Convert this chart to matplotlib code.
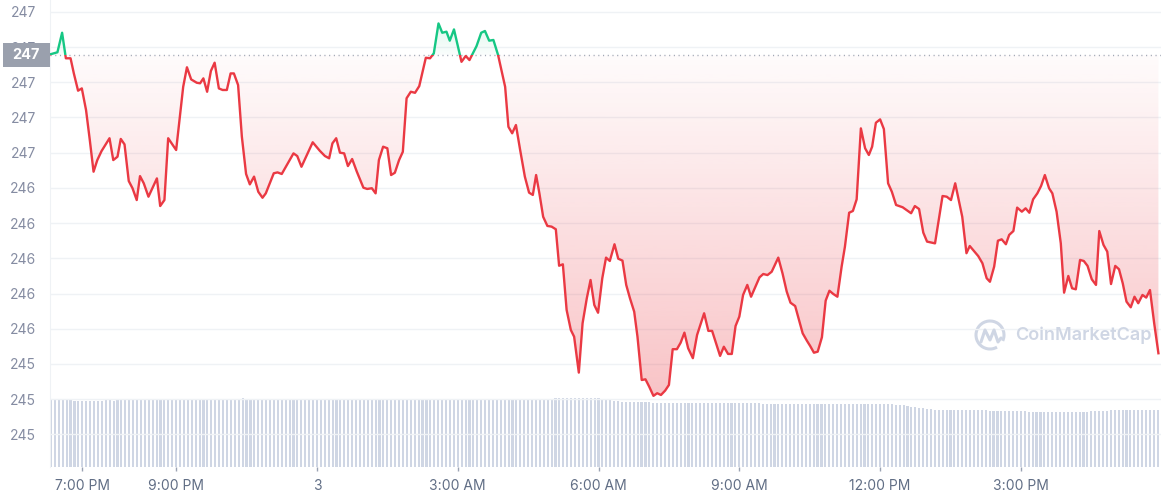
import numpy as np
import matplotlib.pyplot as plt
from matplotlib.colors import to_rgb
from matplotlib.patches import Rectangle, Arc
from matplotlib.path import Path
from matplotlib.lines import Line2D
from matplotlib.transforms import IdentityTransform
from matplotlib.ticker import FuncFormatter

plt.rcParams['font.family'] = ['Inter', 'DejaVu Sans']

# (0) Data
# time in hours from midnight of the 2nd (24 = midnight of the 3rd)
hours = [18.31, 18.47, 18.57, 18.65, 18.75, 18.82, 18.91, 18.99, 19.08, 19.16,
         19.24, 19.32, 19.41, 19.58, 19.66, 19.75, 19.82, 19.90, 19.99, 20.07,
         20.16, 20.23, 20.31, 20.41, 20.59, 20.66, 20.75, 20.83, 21.00, 21.15,
         21.23, 21.32, 21.44, 21.51, 21.58, 21.66, 21.74, 21.82, 21.91, 21.99,
         22.08, 22.16, 22.23, 22.32, 22.40, 22.49, 22.57, 22.66, 22.75, 22.84,
         22.91, 23.08, 23.16, 23.25, 23.50, 23.58, 23.67, 23.91, 24.06, 24.17,
         24.26, 24.33, 24.41, 24.49, 24.58, 24.66, 24.75, 24.85, 24.99, 25.07,
         25.17, 25.25, 25.32, 25.41, 25.50, 25.58, 25.66, 25.75, 25.83, 25.91,
         26.00, 26.09, 26.18, 26.32, 26.41, 26.49, 26.59, 26.67, 26.76, 26.83,
         26.92, 27.08, 27.17, 27.25, 27.40, 27.50, 27.58, 27.67, 27.76, 27.86,
         28.01, 28.08, 28.16, 28.24, 28.33, 28.43, 28.52, 28.60, 28.67, 28.74,
         28.82, 28.91, 29.00, 29.09, 29.16, 29.24, 29.32, 29.41, 29.48, 29.58,
         29.66, 29.75, 29.83, 29.91, 29.99, 30.08, 30.16, 30.24, 30.34, 30.42,
         30.51, 30.59, 30.67, 30.76, 30.83, 30.92, 31.00, 31.08, 31.17, 31.25,
         31.33, 31.42, 31.50, 31.58, 31.67, 31.75, 31.83, 31.91, 32.01, 32.10,
         32.25, 32.34, 32.42, 32.59, 32.67, 32.76, 32.84, 32.92, 33.00, 33.08,
         33.17, 33.25, 33.43, 33.51, 33.60, 33.69, 33.83, 33.92, 34.01, 34.09,
         34.19, 34.35, 34.44, 34.51, 34.59, 34.67, 34.76, 34.84, 34.92, 35.00,
         35.09, 35.18, 35.25, 35.34, 35.42, 35.50, 35.59, 35.68, 35.76, 35.83,
         35.91, 36.00, 36.08, 36.17, 36.25, 36.34, 36.48, 36.66, 36.74, 36.83,
         36.92, 37.00, 37.17, 37.33, 37.42, 37.51, 37.60, 37.75, 37.84, 37.91,
         38.01, 38.09, 38.18, 38.27, 38.34, 38.43, 38.51, 38.59, 38.68, 38.75,
         38.84, 38.92, 39.02, 39.10, 39.18, 39.26, 39.35, 39.43, 39.51, 39.60,
         39.67, 39.76, 39.85, 39.92, 40.01, 40.09, 40.17, 40.26, 40.34, 40.42,
         40.51, 40.60, 40.67, 40.76, 40.84, 40.92, 41.01, 41.09, 41.17, 41.25,
         41.34, 41.42, 41.50, 41.59, 41.67, 41.75, 41.84, 41.93]
price = [247.158, 247.170, 247.281, 247.136, 247.136, 247.050, 246.952, 246.965, 246.842, 246.672,
         246.492, 246.558, 246.609, 246.682, 246.558, 246.577, 246.678, 246.647, 246.439, 246.398,
         246.331, 246.467, 246.426, 246.350, 246.454, 246.297, 246.331, 246.682, 246.615, 246.974,
         247.085, 247.016, 246.997, 246.994, 247.022, 246.946, 247.064, 247.111, 246.965, 246.956,
         246.956, 247.050, 247.050, 246.984, 246.691, 246.479, 246.420, 246.464, 246.378, 246.344,
         246.369, 246.483, 246.488, 246.479, 246.596, 246.581, 246.520, 246.659, 246.611, 246.581,
         246.568, 246.653, 246.682, 246.600, 246.596, 246.524, 246.564, 246.492, 246.401, 246.394,
         246.398, 246.369, 246.558, 246.634, 246.625, 246.473, 246.486, 246.558, 246.605, 246.909,
         246.946, 246.940, 246.978, 247.139, 247.136, 247.164, 247.334, 247.281, 247.287, 247.236,
         247.300, 247.116, 247.149, 247.126, 247.205, 247.281, 247.291, 247.236, 247.240, 247.154,
         246.974, 246.747, 246.710, 246.757, 246.615, 246.464, 246.373, 246.360, 246.473, 246.369,
         246.236, 246.184, 246.180, 246.165, 245.958, 245.966, 245.707, 245.593, 245.555, 245.351,
         245.631, 245.773, 245.877, 245.735, 245.691, 245.887, 246.004, 245.985, 246.080, 245.998,
         245.987, 245.849, 245.773, 245.697, 245.555, 245.309, 245.313, 245.271, 245.219, 245.234,
         245.224, 245.249, 245.281, 245.484, 245.484, 245.521, 245.578, 245.489, 245.433, 245.565,
         245.688, 245.588, 245.588, 245.446, 245.498, 245.457, 245.457, 245.616, 245.669, 245.792,
         245.849, 245.782, 245.892, 245.911, 245.905, 245.924, 246.004, 245.915, 245.811, 245.748,
         245.729, 245.574, 245.532, 245.502, 245.464, 245.470, 245.552, 245.760, 245.816, 245.798,
         245.782, 245.953, 246.066, 246.259, 246.269, 246.335, 246.738, 246.625, 246.587, 246.634,
         246.770, 246.789, 246.734, 246.426, 246.378, 246.303, 246.290, 246.256, 246.297, 246.280,
         246.146, 246.095, 246.085, 246.354, 246.350, 246.331, 246.426, 246.236, 246.029, 246.070,
         246.038, 246.013, 245.972, 245.887, 245.867, 245.953, 246.100, 246.108, 246.080, 246.133,
         246.155, 246.288, 246.265, 246.284, 246.259, 246.335, 246.369, 246.411, 246.473, 246.398,
         246.369, 246.265, 246.085, 245.805, 245.900, 245.830, 245.824, 245.991, 245.985, 245.957,
         245.881, 245.849, 246.155, 246.076, 246.038, 245.854, 245.957, 245.938, 245.858, 245.754,
         245.722, 245.782, 245.745, 245.792, 245.777, 245.820, 245.631, 245.461]
ref_price = 247.154

# 5-minute volume bars starting at 6:20 PM (arbitrary units)
vol_start = 18 + 20 / 60
vol_step = 5 / 60
volume = [6.77, 6.78, 6.77, 6.76, 6.72, 6.66, 6.64, 6.63,
          6.63, 6.63, 6.62, 6.63, 6.64, 6.64, 6.66, 6.66, 6.65, 6.70, 6.70, 6.70,
          6.70, 6.71, 6.70, 6.70, 6.69, 6.70, 6.70, 6.71, 6.70, 6.70, 6.70, 6.71,
          6.72, 6.84, 6.85, 6.85, 6.84, 6.85, 6.85, 6.85, 6.85, 6.84, 6.85, 6.85,
          6.85, 6.85, 6.84, 6.85, 6.85, 6.86, 6.85, 6.85, 6.85, 6.84, 6.85, 6.85,
          6.85, 6.85, 6.84, 6.80, 6.77, 6.76, 6.76, 6.75, 6.75, 6.76, 6.75, 6.75,
          6.75, 6.75, 6.76, 6.75, 6.75, 6.75, 6.74, 6.75, 6.75, 6.76, 6.75, 6.75,
          6.75, 6.75, 6.75, 6.76, 6.76, 6.75, 6.76, 6.76, 6.76, 6.77, 6.76, 6.76,
          6.76, 6.77, 6.77, 6.76, 6.77, 6.77, 6.77, 6.78, 6.77, 6.77, 6.78, 6.78,
          6.78, 6.78, 6.79, 6.79, 6.79, 6.80, 6.80, 6.79, 6.80, 6.80, 6.81, 6.81,
          6.81, 6.82, 6.82, 6.82, 6.83, 6.82, 6.83, 6.84, 6.84, 6.84, 6.85, 6.85,
          6.85, 6.86, 6.86, 6.86, 6.87, 6.87, 6.87, 6.88, 6.88, 6.88, 6.88, 6.87,
          6.86, 6.85, 6.80, 6.70, 6.62, 6.56, 6.52, 6.50, 6.49, 6.48, 6.47, 6.47,
          6.46, 6.46, 6.45, 6.45, 6.45, 6.44, 6.44, 6.43, 6.43, 6.43, 6.42, 6.42,
          6.42, 6.41, 6.41, 6.40, 6.40, 6.39, 6.39, 6.38, 6.38, 6.38, 6.37, 6.37,
          6.37, 6.37, 6.36, 6.36, 6.36, 6.36, 6.35, 6.35, 6.35, 6.35, 6.35, 6.34,
          6.34, 6.34, 6.34, 6.34, 6.33, 6.33, 6.33, 6.33, 6.33, 6.33, 6.32, 6.32,
          6.32, 6.32, 6.32, 6.32, 6.32, 6.32, 6.31, 6.31, 6.31, 6.31, 6.31, 6.31,
          6.31, 6.30, 6.30, 6.28, 6.24, 6.20, 6.18, 6.12, 6.05, 6.00, 5.92, 5.86,
          5.82, 5.78, 5.74, 5.72, 5.71, 5.70, 5.70, 5.69, 5.69, 5.70, 5.69, 5.69,
          5.68, 5.68, 5.67, 5.66, 5.65, 5.64, 5.63, 5.62, 5.61, 5.60, 5.59, 5.58,
          5.57, 5.56, 5.55, 5.55, 5.54, 5.54, 5.53, 5.53, 5.53, 5.52, 5.52, 5.52,
          5.52, 5.53, 5.53, 5.54, 5.54, 5.55, 5.57, 5.59, 5.61, 5.63, 5.65, 5.67,
          5.68, 5.69, 5.69, 5.70, 5.70, 5.70, 5.70, 5.70, 5.70, 5.70, 5.70, 5.70]

tick_hours = [19, 21, 24, 27, 30, 33, 36, 39]
tick_labels = ['7:00 PM', '9:00 PM', '3', '3:00 AM', '6:00 AM', '9:00 AM', '12:00 PM', '3:00 PM']
price_ticks = [245.0, 245.2, 245.4, 245.6, 245.8, 246.0, 246.2, 246.4, 246.6, 246.8, 247.0, 247.2, 247.4]

RED = '#ea3943'
GREEN = '#16c784'
GRID = '#eff2f5'
xmin, xmax = 18.312, 41.985
ymin, ymax = 244.815, 247.467


#(1) Figure and axes
W, H = 1161, 500
fig = plt.figure(figsize=(W / 100, H / 100), dpi=100)
ax = fig.add_axes([50 / W, 33 / H, 1111 / W, 467 / H])
axv = ax.twinx()
ax.set_zorder(axv.get_zorder() + 1)
ax.patch.set_visible(False)

# volume bars underneath
vt = vol_start + np.arange(len(volume)) * vol_step
axv.bar(vt, volume, width=0.045, color='#cfd6e4', linewidth=0)
axv.set_ylim(0, 46.7)
axv.axis('off')

x = np.array(hours)
y = np.array(price)


def gradient_fill(mask, color, extent, a_top, a_bot):
    poly = ax.fill_between(x, y, ref_price, where=mask, interpolate=True,
                           facecolor='none', linewidth=0)
    path = Path.make_compound_path(*poly.get_paths())
    img = np.zeros((256, 1, 4))
    img[..., :3] = to_rgb(color)
    img[..., 3] = np.linspace(a_top, a_bot, 256).reshape(-1, 1)
    im = ax.imshow(img, extent=extent, aspect='auto', origin='upper', zorder=1,
                   interpolation='bilinear')
    im.set_clip_path(path, transform=ax.transData)


gradient_fill(y <= ref_price, RED, [xmin, xmax, ymin, ref_price], 0.02, 0.36)
gradient_fill(y >= ref_price, GREEN, [xmin, xmax, ref_price, ymax], 0.22, 0.02)

# price line, red below the reference and green above it
lr, = ax.plot(x, y, color=RED, lw=1.7, zorder=4, solid_joinstyle='round')
lr.set_clip_path(Rectangle((xmin, ymin), xmax - xmin, ref_price - ymin, transform=ax.transData))
lg, = ax.plot(x, y, color=GREEN, lw=1.7, zorder=4, solid_joinstyle='round')
lg.set_clip_path(Rectangle((xmin, ref_price), xmax - xmin, ymax - ref_price, transform=ax.transData))

ax.axhline(ref_price, color='#a0a7b4', lw=1.0, ls=(0, (0.8, 2.6)), zorder=3)

ax.set_xlim(xmin, xmax)
ax.set_ylim(ymin, ymax)
ax.set_yticks(price_ticks)
ax.yaxis.set_major_formatter(FuncFormatter(lambda v, _: f'{v:.0f}'))
ax.set_xticks(tick_hours)
ax.set_xticklabels(tick_labels)
ax.grid(axis='y', color=GRID, lw=1, zorder=0)
ax.set_axisbelow(True)
ax.tick_params(axis='y', length=0, pad=10, labelsize=10, labelcolor='#858ca2')
ax.tick_params(axis='x', length=3, width=1, color='#9aa3b3', pad=6, labelsize=10,
               labelcolor='#616e85')
for s in ['top', 'right', 'bottom']:
    ax.spines[s].set_visible(False)
ax.spines['left'].set_color(GRID)

# current price tag on the left (covers part of the 247.2 tick label, as in the original)
fig.add_artist(Rectangle((3 / W, 433 / H), 47 / W, 24 / H, transform=fig.transFigure,
                         facecolor='#9aa0ad', edgecolor='none', zorder=10))
fig.text(26 / W, 445 / H, '247', color='white', fontsize=10.5, fontweight='bold',
         ha='center', va='center', zorder=11)

# watermark
wm = '#cfd6e4'
fig.text(1015 / W, 165 / H, 'CoinMarketCap', color=wm, fontsize=13, fontweight='semibold',
         ha='left', va='center', transform=fig.transFigure)
fig.add_artist(Arc((990, 165), 28, 28, theta1=-25, theta2=300, transform=IdentityTransform(),
                   color=wm, lw=2.2))
fig.add_artist(Line2D([981, 985, 990, 994, 998, 1001], [158, 170, 160, 170, 158, 162],
                      transform=IdentityTransform(), color=wm, lw=2.2,
                      solid_joinstyle='round', solid_capstyle='round'))

fig.savefig('out.png', dpi=100)
